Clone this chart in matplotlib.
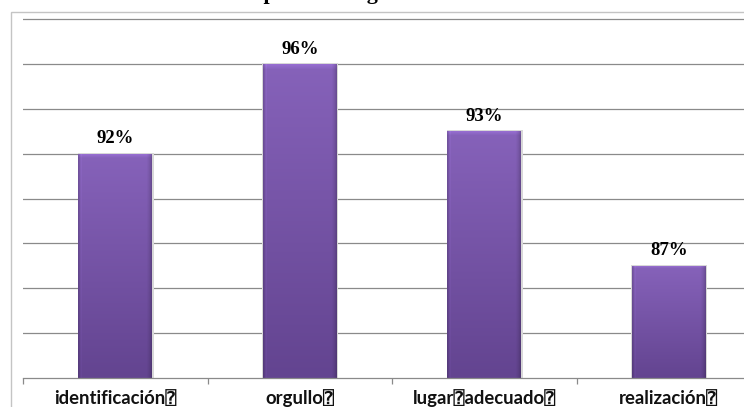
import numpy as np
import matplotlib
matplotlib.use("Agg")
import matplotlib.pyplot as plt
from matplotlib.patches import Rectangle
from matplotlib.colors import to_rgb

# Data
categories = ["identificación⍰", "orgullo⍰", "lugar⍰adecuado⍰", "realización⍰"]
values = [92, 96, 93, 87]
value_labels = ["92%", "96%", "93%", "87%"]
title_text = "Compromiso organizacional"

W, H = 744, 407
fig = plt.figure(figsize=(W / 100, H / 100), dpi=100)

# Outer chart border (runs past the right and bottom edges)
fig.patches.append(Rectangle((11 / W, -0.1), 1.2, 1 - 12 / H + 0.1,
                             transform=fig.transFigure, fill=False,
                             edgecolor="#c4c4c4", linewidth=1.0, zorder=0))

# Title, sitting above the visible area
fig.text(0.472, 1 + 1 / H, title_text, ha="center", va="baseline",
         fontsize=15.8, fontweight="bold",
         family=["Liberation Serif", "DejaVu Serif"])

ax = fig.add_axes([23 / W, (H - 377.7) / H, (761 - 23) / W, (377.7 - 18.3) / H])
ax.set_xlim(0, len(categories))
ax.set_ylim(82, 98.05)
ax.set_yticks(np.arange(84, 99, 2))
ax.set_yticklabels([])
ax.tick_params(axis="y", length=0)
ax.grid(axis="y", color="#8a8a8a", linewidth=0.9)
ax.set_axisbelow(True)
for s in ("top", "right", "left"):
    ax.spines[s].set_visible(False)
ax.spines["bottom"].set_color("#8a8a8a")
ax.spines["bottom"].set_linewidth(0.9)

# Category boundary ticks below the axis
ax.set_xticks(np.arange(0, len(categories) + 1))
ax.set_xticklabels([])
ax.tick_params(axis="x", direction="out", length=4, width=0.9, color="#8a8a8a")

x = np.arange(len(categories)) + 0.5
bars = ax.bar(x, [v - 82 for v in values], width=0.40, bottom=82,
              color="none", edgecolor="none", zorder=2)

# Purple shaded fill for each bar
top_c = np.array(to_rgb("#8662ba"))
bot_c = np.array(to_rgb("#634490"))
ny, nx = 200, 60
t = np.linspace(0, 1, ny)[:, None]
col = top_c * (1 - t[..., None]) + bot_c * t[..., None]
col = np.repeat(col, nx, axis=1)
edge = np.ones(nx)
edge[:3] = [0.85, 0.93, 1.06]
edge[-4:] = [0.97, 0.93, 0.88, 0.8]
col = np.clip(col * edge[None, :, None], 0, 1)
col[:3] = np.clip(col[:3] * np.array([1.12, 1.08, 1.04])[:, None, None], 0, 1)

for b in bars:
    x0, y0 = b.get_x(), b.get_y()
    w, h = b.get_width(), b.get_height()
    # soft shadow
    ax.add_patch(Rectangle((x0 - 0.004, y0), w + 0.012, h + 0.05,
                           facecolor="#d8d8d8", edgecolor="none", zorder=1.5))
    ax.imshow(col, extent=(x0, x0 + w, y0, y0 + h), aspect="auto",
              origin="upper", zorder=2.5, interpolation="bilinear")

ax.set_ylim(82, 98.05)
ax.set_xlim(0, len(categories))

for xi, v, lab in zip(x, values, value_labels):
    ax.annotate(lab, (xi, v), xytext=(0, 7.5), textcoords="offset points",
                ha="center", va="baseline", fontsize=13.5, fontweight="bold",
                family=["Liberation Serif", "DejaVu Serif"], zorder=4)

for xi, c in zip(x, categories):
    ax.annotate(c, (xi, 82), xytext=(0, -19), textcoords="offset points",
                ha="center", va="baseline", fontsize=13.3, fontweight="bold",
                family=["Lato", "DejaVu Sans Mono", "DejaVu Sans"],
                color="#111111", annotation_clip=False)

fig.savefig("out.png", dpi=100)
